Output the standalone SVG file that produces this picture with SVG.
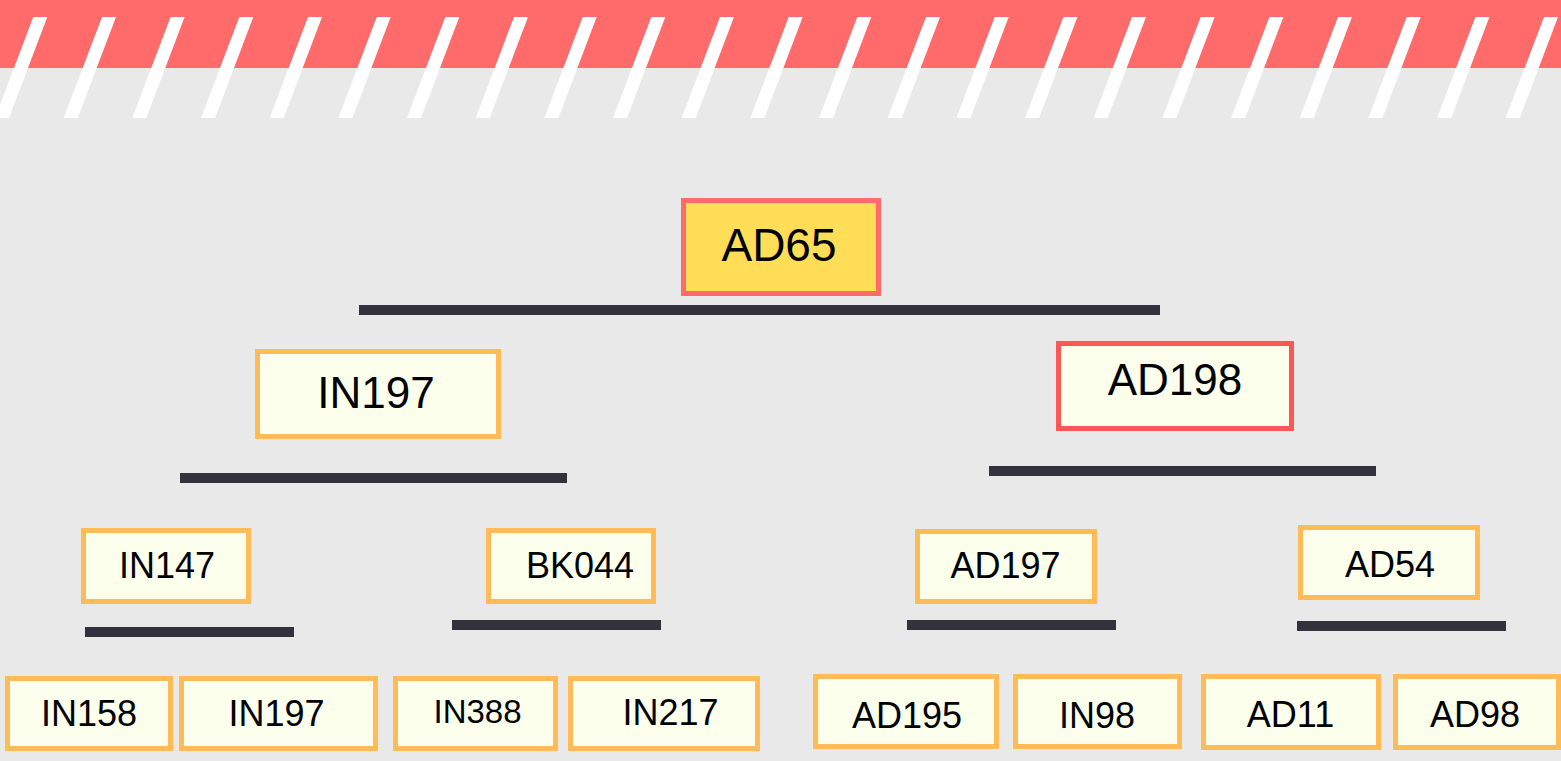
<svg xmlns="http://www.w3.org/2000/svg" width="1561" height="761" viewBox="0 0 1561 761">
  <style>
    .bg { fill: #E9E9E9; }
    .band { fill: #FF6B6B; }
    .stripe { fill: #FFFFFF; }
    .box { fill: #FBFFEC; stroke: #FFBB57; stroke-width: 5; }
    .root { fill: #FFDD57; stroke: #FF6B6B; stroke-width: 5; }
    .red { fill: #FBFFEC; stroke: #FF5757; stroke-width: 5; }
    .bar { fill: #33313B; }
    text { font-family: "Liberation Sans", Arial, sans-serif; fill: #000000; text-anchor: middle; }
    .t46 { font-size: 46px; }
    .t44 { font-size: 44px; }
    .t36 { font-size: 36px; }
    .t33 { font-size: 33px; }
  </style>
  <rect class="bg" x="0" y="0" width="1561" height="761"/>
  <g id="header">
    <rect class="band" x="0" y="0" width="1561" height="68"/>
    <path class="stripe" d="M33.3 17 h14 l-38.3 101 h-14 z M102 17 h14 l-38.3 101 h-14 z M170.6 17 h14 l-38.3 101 h-14 z M239.3 17 h14 l-38.3 101 h-14 z M308 17 h14 l-38.3 101 h-14 z M376.7 17 h14 l-38.3 101 h-14 z M445.3 17 h14 l-38.3 101 h-14 z M514 17 h14 l-38.3 101 h-14 z M582.7 17 h14 l-38.3 101 h-14 z M651.3 17 h14 l-38.3 101 h-14 z M720 17 h14 l-38.3 101 h-14 z M788.7 17 h14 l-38.3 101 h-14 z M857.3 17 h14 l-38.3 101 h-14 z M926 17 h14 l-38.3 101 h-14 z M994.7 17 h14 l-38.3 101 h-14 z M1063.4 17 h14 l-38.3 101 h-14 z M1132 17 h14 l-38.3 101 h-14 z M1200.7 17 h14 l-38.3 101 h-14 z M1269.4 17 h14 l-38.3 101 h-14 z M1338 17 h14 l-38.3 101 h-14 z M1406.7 17 h14 l-38.3 101 h-14 z M1475.4 17 h14 l-38.3 101 h-14 z M1544 17 h14 l-38.3 101 h-14 z"/>
  </g>
  <g id="connectors">
    <rect class="bar" x="359" y="305" width="801" height="10"/>
    <rect class="bar" x="180" y="473" width="387" height="10"/>
    <rect class="bar" x="989" y="466" width="387" height="10"/>
    <rect class="bar" x="85" y="627" width="209" height="10"/>
    <rect class="bar" x="452" y="620" width="209" height="10"/>
    <rect class="bar" x="907" y="620" width="209" height="10"/>
    <rect class="bar" x="1297" y="621" width="209" height="10"/>
  </g>
  <g id="node-AD65">
    <rect class="root" x="683.5" y="200.5" width="195" height="93"/>
    <text class="t46" x="779" y="261">AD65</text>
  </g>
  <g id="node-IN197-top">
    <rect class="box" x="257.5" y="351.5" width="241" height="85"/>
    <text class="t44" x="376" y="408">IN197</text>
  </g>
  <g id="node-AD198">
    <rect class="red" x="1058.5" y="343.5" width="233" height="85"/>
    <text class="t44" x="1175" y="395">AD198</text>
  </g>
  <g id="node-IN147">
    <rect class="box" x="83.5" y="530.5" width="165" height="71"/>
    <text class="t36" x="167" y="578">IN147</text>
  </g>
  <g id="node-BK044">
    <rect class="box" x="488.5" y="530.5" width="165" height="71"/>
    <text class="t36" x="580" y="578">BK044</text>
  </g>
  <g id="node-AD197">
    <rect class="box" x="917.5" y="531.5" width="177" height="70"/>
    <text class="t36" x="1005.5" y="578">AD197</text>
  </g>
  <g id="node-AD54">
    <rect class="box" x="1300.5" y="527.5" width="177" height="70"/>
    <text class="t36" x="1390" y="577">AD54</text>
  </g>
  <g id="node-IN158">
    <rect class="box" x="7.5" y="678.5" width="163" height="70"/>
    <text class="t36" x="89" y="726">IN158</text>
  </g>
  <g id="node-IN197-bottom">
    <rect class="box" x="181.5" y="678.5" width="194" height="70"/>
    <text class="t36" x="276.5" y="726">IN197</text>
  </g>
  <g id="node-IN388">
    <rect class="box" x="395.5" y="678.5" width="160" height="70"/>
    <text class="t33" x="477.5" y="723">IN388</text>
  </g>
  <g id="node-IN217">
    <rect class="box" x="570.5" y="678.5" width="187" height="70"/>
    <text class="t36" x="670.5" y="725">IN217</text>
  </g>
  <g id="node-AD195">
    <rect class="box" x="815.5" y="676.5" width="181" height="70"/>
    <text class="t36" x="907" y="728">AD195</text>
  </g>
  <g id="node-IN98">
    <rect class="box" x="1015.5" y="676.5" width="164" height="70"/>
    <text class="t36" x="1097" y="728">IN98</text>
  </g>
  <g id="node-AD11">
    <rect class="box" x="1203.5" y="676.5" width="175" height="71"/>
    <text class="t36" x="1290.5" y="727">AD11</text>
  </g>
  <g id="node-AD98">
    <rect class="box" x="1395.5" y="676.5" width="163" height="71"/>
    <text class="t36" x="1475" y="727">AD98</text>
  </g>
</svg>
